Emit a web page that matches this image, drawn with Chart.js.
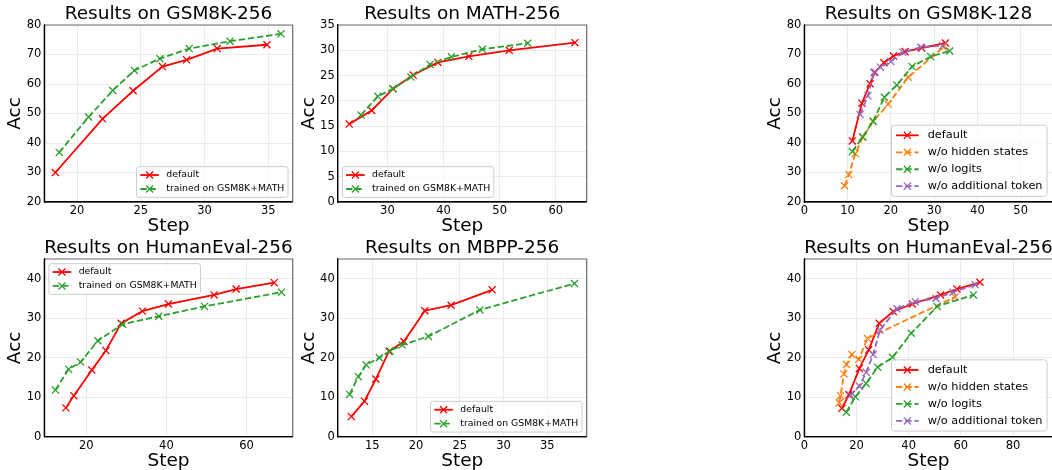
<!DOCTYPE html>
<html><head><meta charset="utf-8">
<script src="https://cdn.jsdelivr.net/npm/chart.js@4.4.1/dist/chart.umd.min.js"></script>
<style>
html,body{margin:0;padding:0;width:1052px;height:470px;overflow:hidden;background:#fff;position:relative;}
canvas{position:absolute;}
</style></head><body>
<script>
// ---------- DATA ----------
// GSM8K-256
const gsm256DefaultStep = [18.3, 22.0, 24.4, 26.7, 28.6, 31.0, 34.9];
const gsm256DefaultAcc  = [30.0, 48.2, 57.7, 65.9, 68.2, 72.0, 73.3];
const gsm256TrainedStep = [18.6, 20.9, 22.8, 24.5, 26.5, 28.8, 32.0, 36.0];
const gsm256TrainedAcc  = [36.8, 48.8, 57.8, 64.6, 68.6, 72.0, 74.5, 77.0];
// MATH-256
const math256DefaultStep = [23.2, 27.2, 31.0, 34.6, 39.0, 44.5, 51.7, 63.4];
const math256DefaultAcc  = [15.4, 18.1, 22.4, 25.1, 27.6, 28.8, 30.0, 31.5];
const math256TrainedStep = [25.3, 28.3, 31.0, 34.2, 37.6, 41.4, 46.9, 55.0];
const math256TrainedAcc  = [17.2, 20.9, 22.4, 24.7, 27.2, 28.7, 30.2, 31.4];
// GSM8K-128 (ablation)
const gsm128DefaultStep = [11.1, 13.3, 15.2, 16.3, 18.4, 20.6, 23.3, 27.1, 32.6];
const gsm128DefaultAcc  = [40.7, 53.5, 60.1, 64.0, 67.2, 69.5, 71.0, 72.2, 73.9];
const gsm128NoHiddenStep = [9.3, 10.3, 11.8, 13.5, 15.9, 19.4, 24.0, 32.2];
const gsm128NoHiddenAcc  = [25.5, 29.3, 36.4, 41.9, 47.3, 53.2, 62.3, 72.5];
const gsm128NoLogitsStep = [11.1, 13.5, 15.9, 18.5, 21.4, 24.9, 29.2, 33.6];
const gsm128NoLogitsAcc  = [37.1, 42.1, 47.4, 55.5, 59.7, 65.9, 69.3, 71.2];
const gsm128NoTokenStep = [12.9, 14.7, 16.1, 17.6, 20.0, 22.8, 26.9, 32.0];
const gsm128NoTokenAcc  = [49.7, 56.0, 63.9, 65.7, 67.6, 70.8, 72.5, 73.0];
// HumanEval-256
const he256DefaultStep = [14.9, 16.9, 21.4, 24.9, 28.7, 34.0, 40.5, 51.9, 57.4, 66.9];
const he256DefaultAcc  = [7.3, 10.4, 16.9, 21.8, 28.7, 31.8, 33.6, 35.9, 37.4, 39.0];
const he256TrainedStep = [12.3, 15.6, 18.6, 22.9, 29.1, 38.1, 49.5, 68.7];
const he256TrainedAcc  = [11.8, 17.1, 18.9, 24.3, 28.5, 30.5, 33.0, 36.6];
// MBPP-256
const mbpp256DefaultStep = [12.6, 14.1, 15.4, 16.9, 18.6, 21.0, 24.0, 28.7];
const mbpp256DefaultAcc  = [5.1, 9.0, 14.6, 21.6, 24.1, 31.9, 33.3, 37.2];
const mbpp256TrainedStep = [12.4, 13.4, 14.3, 15.8, 17.0, 18.4, 21.4, 27.3, 38.1];
const mbpp256TrainedAcc  = [10.7, 15.2, 18.2, 20.0, 21.7, 23.2, 25.4, 32.1, 38.8];
// HumanEval-256 (ablation)
const heAblDefaultStep = [14.4, 17.1, 21.1, 24.7, 28.7, 34.1, 41.4, 52.2, 58.5, 67.3];
const heAblDefaultAcc  = [7.2, 10.6, 17.3, 22.0, 28.7, 31.7, 33.6, 35.9, 37.4, 39.1];
const heAblNoHiddenStep = [13.4, 13.9, 15.2, 16.2, 18.2, 20.9, 24.2, 57.8];
const heAblNoHiddenAcc  = [8.6, 10.4, 15.9, 18.3, 20.8, 19.6, 24.9, 35.4];
const heAblNoLogitsStep = [16.1, 19.6, 23.7, 28.1, 33.8, 41.0, 50.9, 64.8];
const heAblNoLogitsAcc  = [6.2, 10.1, 13.5, 17.6, 20.1, 26.2, 33.0, 35.9];
const heAblNoTokenStep = [17.7, 21.1, 23.7, 26.4, 29.0, 35.5, 42.5, 50.5, 57.0, 65.5];
const heAblNoTokenAcc  = [10.5, 12.8, 16.3, 20.8, 27.0, 32.4, 34.2, 35.0, 36.6, 38.5];

// tick labels
const gsm256XTicks = [20, 25, 30, 35];
const gsm256YTicks = [20, 30, 40, 50, 60, 70, 80];
const math256XTicks = [30, 40, 50, 60];
const math256YTicks = [0, 5, 10, 15, 20, 25, 30, 35];
const gsm128XTicks = [0, 10, 20, 30, 40, 50];
const gsm128YTicks = [20, 30, 40, 50, 60, 70, 80];
const he256XTicks = [20, 40, 60];
const codeYTicks = [0, 10, 20, 30, 40];
const mbpp256XTicks = [15, 20, 25, 30, 35];
const heAblXTicks = [0, 20, 40, 60, 80];

const labelDefault = 'default';
const labelTrained = 'trained on GSM8K+MATH';
const labelNoHidden = 'w/o hidden states';
const labelNoLogits = 'w/o logits';
const labelNoToken = 'w/o additional token';

// ---------- STYLE ----------
const FONT = '"DejaVu Sans", sans-serif';
const RED = '#ff0000', GREEN = '#2ca02c', ORANGE = '#ff7f0e', PURPLE = '#9467bd';
const GRID = '#e4e4e4';

function xMarker(ctx, x, y, r, lw, color) {
  const o = r * Math.SQRT1_2;
  ctx.save();
  ctx.setLineDash([]);
  ctx.strokeStyle = color; ctx.lineWidth = lw;
  ctx.beginPath();
  ctx.moveTo(x - o, y - o); ctx.lineTo(x + o, y + o);
  ctx.moveTo(x - o, y + o); ctx.lineTo(x + o, y - o);
  ctx.stroke();
  ctx.restore();
}

const framePlugin = {
  id: 'frame',
  afterDatasetsDraw(chart) {
    const {ctx, chartArea: ca} = chart;
    ctx.save();
    ctx.strokeStyle = '#6a6a6a'; ctx.lineWidth = 1.2;
    ctx.beginPath();
    ctx.moveTo(ca.left, ca.top); ctx.lineTo(ca.right, ca.top); ctx.lineTo(ca.right, ca.bottom);
    ctx.stroke();
    ctx.strokeStyle = '#000';
    ctx.beginPath();
    ctx.moveTo(ca.left, ca.top); ctx.lineTo(ca.left, ca.bottom); ctx.lineTo(ca.right, ca.bottom);
    ctx.stroke();
    ctx.restore();
  }
};

const legendPlugin = {
  id: 'mplLegend',
  afterDraw(chart, args, opts) {
    const {ctx, chartArea: ca} = chart;
    const items = chart.data.datasets;
    const f = opts.fontSize;
    ctx.save();
    ctx.font = f + 'px ' + FONT;
    const textW = Math.max(...items.map(d => ctx.measureText(d.label).width));
    const pad = 0.4 * f, hl = 2 * f, htp = 0.8 * f, rowH = f, sp = 0.5 * f, ax = 0.5 * f;
    const w = pad * 2 + hl + htp + textW;
    const h = pad * 2 + items.length * rowH + (items.length - 1) * sp;
    const x = opts.loc.includes('right') ? ca.right - ax - w : ca.left + ax;
    const y = opts.loc.includes('lower') ? ca.bottom - ax - h : ca.top + ax;
    ctx.beginPath();
    ctx.roundRect(x, y, w, h, 0.25 * f);
    ctx.fillStyle = 'rgba(255,255,255,0.8)';
    ctx.fill();
    ctx.strokeStyle = '#cccccc'; ctx.lineWidth = 1;
    ctx.stroke();
    items.forEach((d, i) => {
      const cy = y + pad + i * (rowH + sp) + rowH / 2;
      const hx = x + pad;
      ctx.save();
      ctx.strokeStyle = d.borderColor; ctx.lineWidth = d.borderWidth;
      ctx.setLineDash(d.borderDash || []);
      ctx.beginPath(); ctx.moveTo(hx, cy); ctx.lineTo(hx + hl, cy); ctx.stroke();
      ctx.restore();
      xMarker(ctx, hx + hl / 2, cy, d.pointRadius, d.pointBorderWidth, d.borderColor);
      ctx.fillStyle = '#000';
      ctx.textBaseline = 'middle'; ctx.textAlign = 'left';
      ctx.fillText(d.label, hx + hl + htp, cy);
    });
    ctx.restore();
  }
};

function series(label, xs, ys, color, dash) {
  return {label, xs, ys, color, dash};
}

const panels = [
  {title: 'Results on GSM8K-256', L: 44.3, T: 25, R: 295, B: 202, xMin: 17.43, xMax: 36.92, yMin: 20, yMax: 80,
   xTicks: gsm256XTicks, yTicks: gsm256YTicks, loc: 'lower right', lf: 9.3,
   series: [series(labelDefault, gsm256DefaultStep, gsm256DefaultAcc, RED, false),
            series(labelTrained, gsm256TrainedStep, gsm256TrainedAcc, GREEN, true)]},
  {title: 'Results on MATH-256', L: 337.7, T: 25, R: 589, B: 202, xMin: 21.15, xMax: 65.5, yMin: 0, yMax: 35,
   xTicks: math256XTicks, yTicks: math256YTicks, loc: 'lower left', lf: 9.3,
   series: [series(labelDefault, math256DefaultStep, math256DefaultAcc, RED, false),
            series(labelTrained, math256TrainedStep, math256TrainedAcc, GREEN, true)]},
  {title: 'Results on GSM8K-128', L: 804.3, T: 25, R: 1055, B: 202, xMin: 0, xMax: 57.4, yMin: 20, yMax: 80,
   xTicks: gsm128XTicks, yTicks: gsm128YTicks, loc: 'lower right', lf: 11.3,
   series: [series(labelDefault, gsm128DefaultStep, gsm128DefaultAcc, RED, false),
            series(labelNoHidden, gsm128NoHiddenStep, gsm128NoHiddenAcc, ORANGE, true),
            series(labelNoLogits, gsm128NoLogitsStep, gsm128NoLogitsAcc, GREEN, true),
            series(labelNoToken, gsm128NoTokenStep, gsm128NoTokenAcc, PURPLE, true)]},
  {title: 'Results on HumanEval-256', L: 44.3, T: 259, R: 295, B: 436.7, xMin: 9.53, xMax: 71.5, yMin: 0, yMax: 45,
   xTicks: he256XTicks, yTicks: codeYTicks, loc: 'upper left', lf: 9.3,
   series: [series(labelDefault, he256DefaultStep, he256DefaultAcc, RED, false),
            series(labelTrained, he256TrainedStep, he256TrainedAcc, GREEN, true)]},
  {title: 'Results on MBPP-256', L: 337.7, T: 259, R: 589, B: 436.7, xMin: 11.04, xMax: 39.5, yMin: 0, yMax: 45,
   xTicks: mbpp256XTicks, yTicks: codeYTicks, loc: 'lower right', lf: 9.3,
   series: [series(labelDefault, mbpp256DefaultStep, mbpp256DefaultAcc, RED, false),
            series(labelTrained, mbpp256TrainedStep, mbpp256TrainedAcc, GREEN, true)]},
  {title: 'Results on HumanEval-256', L: 804.3, T: 259, R: 1055, B: 436.7, xMin: 0, xMax: 95.2, yMin: 0, yMax: 45,
   xTicks: heAblXTicks, yTicks: codeYTicks, loc: 'lower right', lf: 11.3,
   series: [series(labelDefault, heAblDefaultStep, heAblDefaultAcc, RED, false),
            series(labelNoHidden, heAblNoHiddenStep, heAblNoHiddenAcc, ORANGE, true),
            series(labelNoLogits, heAblNoLogitsStep, heAblNoLogitsAcc, GREEN, true),
            series(labelNoToken, heAblNoTokenStep, heAblNoTokenAcc, PURPLE, true)]},
];

function makePanel(p) {
  const cl = Math.floor(p.L - 40), ct = Math.floor(p.T - 24);
  const cw = Math.ceil(p.R - cl + 4), ch = Math.ceil(p.B - ct + 34);
  const yW = p.L - cl, titleH = p.T - ct;
  const xH = 33.85;
  const padBottom = ch - (p.B - ct) - xH;
  const padRight = cw - (p.R - cl);
  const c = document.createElement('canvas');
  c.width = cw; c.height = ch;
  c.style.left = cl + 'px'; c.style.top = ct + 'px';
  c.style.width = cw + 'px'; c.style.height = ch + 'px';
  document.body.appendChild(c);
  const n = p.series.length;
  new Chart(c, {
    type: 'line',
    data: {
      datasets: p.series.map((s, i) => ({
        label: s.label,
        data: s.xs.map((v, j) => ({x: v, y: s.ys[j]})),
        borderColor: s.color, backgroundColor: s.color,
        borderWidth: 1.8, borderDash: s.dash ? [6.4, 2.8] : [],
        pointStyle: 'crossRot', pointRadius: 5, pointHoverRadius: 5,
        pointBorderWidth: 1.3, pointBorderColor: s.color,
        tension: 0, fill: false, order: n - i
      }))
    },
    options: {
      responsive: false, animation: false, events: [], devicePixelRatio: 1,
      layout: {padding: {left: 0, top: 0, right: padRight, bottom: padBottom}},
      plugins: {
        legend: {display: false}, tooltip: {enabled: false},
        title: {display: true, text: p.title, fullSize: false, color: '#000',
                font: {family: FONT, size: 18.5, lineHeight: 1, weight: 'normal'},
                padding: {top: titleH - 19.95, bottom: 1.45}},
        mplLegend: {loc: p.loc, fontSize: p.lf}
      },
      scales: {
        x: {
          type: 'linear', position: 'bottom', min: p.xMin, max: p.xMax,
          afterBuildTicks: s => { s.ticks = p.xTicks.map(v => ({value: v})); },
          afterFit: s => { s.height = xH; },
          grid: {color: GRID, lineWidth: 0.8, drawTicks: false},
          border: {display: true, color: '#000', width: 1.2},
          ticks: {font: {family: FONT, size: 11.5}, color: '#000', padding: 2.5, maxRotation: 0, autoSkip: false},
          title: {display: true, text: 'Step', color: '#000', font: {family: FONT, size: 18.5, lineHeight: 1}, padding: {top: 0, bottom: 0}}
        },
        y: {
          type: 'linear', position: 'left', min: p.yMin, max: p.yMax,
          afterBuildTicks: s => { s.ticks = p.yTicks.map(v => ({value: v})); },
          afterFit: s => { s.width = yW; },
          grid: {color: GRID, lineWidth: 0.8, drawTicks: false},
          border: {display: true, color: '#000', width: 1.2},
          ticks: {font: {family: FONT, size: 11.5}, color: '#000', padding: 3, autoSkip: false},
          title: {display: true, text: 'Acc', color: '#000', font: {family: FONT, size: 18.5, lineHeight: 1}, padding: {top: (p.L - 29) - cl - 9.25, bottom: 0}}
        }
      }
    },
    plugins: [framePlugin, legendPlugin]
  });
}

panels.forEach(makePanel);
</script>
</body></html>
